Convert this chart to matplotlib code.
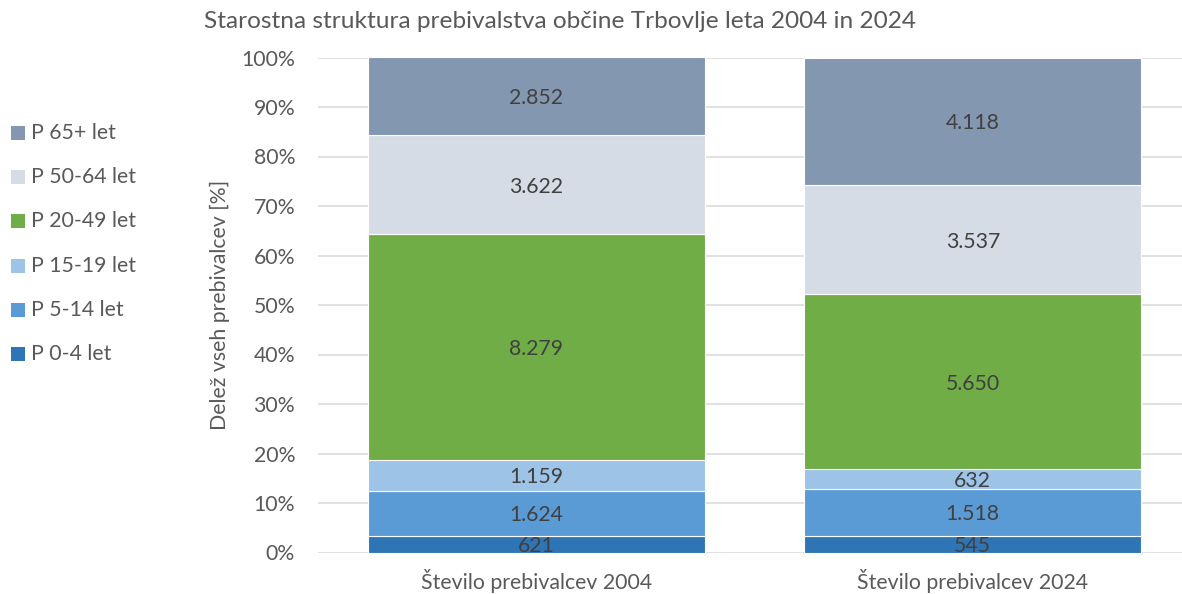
import matplotlib
matplotlib.use("Agg")
import matplotlib.pyplot as plt
from matplotlib.patches import Rectangle
import numpy as np

plt.rcParams['font.family'] = ['Lato', 'DejaVu Sans']

categories = ["Število prebivalcev 2004", "Število prebivalcev 2024"]
series_names = ["P 0-4 let", "P 5-14 let", "P 15-19 let", "P 20-49 let", "P 50-64 let", "P 65+ let"]
v_0_4 = [621, 545]
v_5_14 = [1624, 1518]
v_15_19 = [1159, 632]
v_20_49 = [8279, 5650]
v_50_64 = [3622, 3537]
v_65 = [2852, 4118]
colors = ["#2E75B6", "#5B9BD5", "#9DC3E6", "#70AD47", "#D6DCE5", "#8497B0"]

title = "Starostna struktura prebivalstva občine Trbovlje leta 2004 in 2024"
ylabel = "Delež vseh prebivalcev [%]"

FS = 15.3
W, H = 1182, 594
fig = plt.figure(figsize=(W / 100, H / 100), dpi=100)
ax = fig.add_axes([318 / W, 41.5 / H, 873 / W, 495 / H])

data = np.array([v_0_4, v_5_14, v_15_19, v_20_49, v_50_64, v_65], dtype=float)
totals = data.sum(axis=0)
pct = data / totals * 100
x = np.arange(len(categories))
bottom = np.zeros(len(categories))
txt_col = "#404040"
for i in range(len(series_names)):
    ax.bar(x, pct[i], 0.771, bottom=bottom, color=colors[i], edgecolor="white",
           linewidth=0.8, zorder=3)
    for j in range(len(categories)):
        lab = f"{int(data[i, j]):,}".replace(",", ".")
        ax.text(x[j], bottom[j] + pct[i, j] / 2, lab, ha="center", va="center_baseline",
                fontsize=FS, color=txt_col, zorder=4)
    bottom += pct[i]

ax.set_xlim(-0.5, 1.5)
ax.set_ylim(0, 100)
ax.set_yticks(np.arange(0, 101, 10))
ax.set_yticklabels([f"{t}%" for t in range(0, 101, 10)])
ax.set_xticks(x)
ax.set_xticklabels(categories)
ax.tick_params(length=0, labelsize=FS, colors="#595959")
ax.tick_params(axis="y", pad=16.5)
ax.tick_params(axis="x", pad=12)
ax.grid(axis="y", color="#D9D9D9", linewidth=1.1, zorder=0)
for s in ax.spines.values():
    s.set_visible(False)

fig.text(220 / W, 1 - 305 / H, ylabel, rotation=90, ha="center", va="center",
         fontsize=FS, color="#595959")
fig.text(560 / W, 1 - 22 / H, title, ha="center", va="center", fontsize=17.6, color="#595959")

# legend
y0, step = 132.7, 44.35
for k, i in enumerate(range(len(series_names) - 1, -1, -1)):
    yc = y0 + k * step
    fig.add_artist(Rectangle((11 / W, 1 - (yc + 7) / H), 14 / W, 14 / H,
                             transform=fig.transFigure, facecolor=colors[i], edgecolor="none"))
    fig.text(31 / W, 1 - yc / H, series_names[i], ha="left", va="center",
             fontsize=FS, color="#595959")

fig.savefig("out.png", dpi=100)
